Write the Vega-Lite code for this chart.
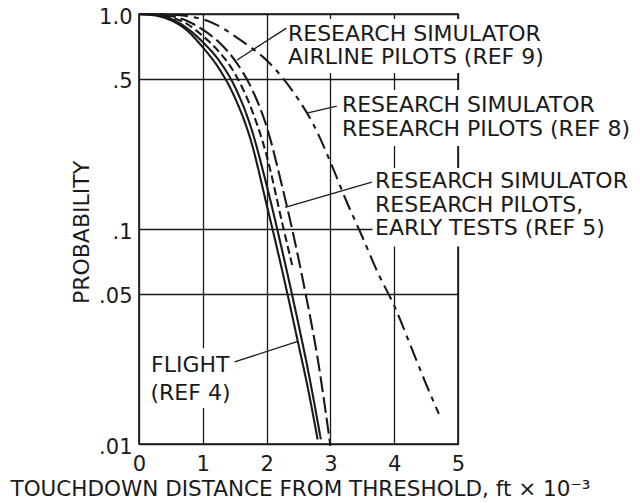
{
  "$schema": "https://vega.github.io/schema/vega-lite/v6.json",
  "width": 319,
  "height": 430,
  "autosize": {"type": "none"},
  "padding": {"left": 139, "top": 14, "right": 182, "bottom": 59},
  "background": "white",
  "config": {
    "view": {"stroke": "#1a1a1a", "strokeWidth": 1.6},
    "font": "DejaVu Sans",
    "text": {"font": "DejaVu Sans"}
  },
  "datasets": {
    "curves": [
      {"series": "A", "x": 0, "p": 1}, {"series": "A", "x": 0.25, "p": 0.985}, {"series": "A", "x": 0.5, "p": 0.935}, {"series": "A", "x": 0.75, "p": 0.84}, {"series": "A", "x": 1.0, "p": 0.70}, {"series": "A", "x": 1.25, "p": 0.56}, {"series": "A", "x": 1.5, "p": 0.41}, {"series": "A", "x": 1.75, "p": 0.26}, {"series": "A", "x": 2.0, "p": 0.13}, {"series": "A", "x": 2.25, "p": 0.063}, {"series": "A", "x": 2.5, "p": 0.029}, {"series": "A", "x": 2.65, "p": 0.018}, {"series": "A", "x": 2.8, "p": 0.0105},
      {"series": "B", "x": 0, "p": 1}, {"series": "B", "x": 0.25, "p": 0.99}, {"series": "B", "x": 0.5, "p": 0.95}, {"series": "B", "x": 0.75, "p": 0.86}, {"series": "B", "x": 1.0, "p": 0.74}, {"series": "B", "x": 1.25, "p": 0.61}, {"series": "B", "x": 1.5, "p": 0.46}, {"series": "B", "x": 1.75, "p": 0.30}, {"series": "B", "x": 2.0, "p": 0.16}, {"series": "B", "x": 2.25, "p": 0.078}, {"series": "B", "x": 2.5, "p": 0.036}, {"series": "B", "x": 2.65, "p": 0.022}, {"series": "B", "x": 2.85, "p": 0.0105},
      {"series": "C", "x": 0, "p": 1}, {"series": "C", "x": 0.25, "p": 0.993}, {"series": "C", "x": 0.5, "p": 0.965}, {"series": "C", "x": 0.75, "p": 0.90}, {"series": "C", "x": 1.0, "p": 0.79}, {"series": "C", "x": 1.25, "p": 0.67}, {"series": "C", "x": 1.5, "p": 0.53}, {"series": "C", "x": 1.75, "p": 0.37}, {"series": "C", "x": 2.0, "p": 0.22}, {"series": "C", "x": 2.25, "p": 0.105}, {"series": "C", "x": 2.4, "p": 0.068},
      {"series": "D", "x": 0, "p": 1}, {"series": "D", "x": 0.25, "p": 0.996}, {"series": "D", "x": 0.5, "p": 0.978}, {"series": "D", "x": 0.75, "p": 0.93}, {"series": "D", "x": 1.0, "p": 0.845}, {"series": "D", "x": 1.25, "p": 0.74}, {"series": "D", "x": 1.5, "p": 0.61}, {"series": "D", "x": 1.75, "p": 0.46}, {"series": "D", "x": 2.0, "p": 0.30}, {"series": "D", "x": 2.25, "p": 0.155}, {"series": "D", "x": 2.4, "p": 0.10}, {"series": "D", "x": 2.6, "p": 0.052}, {"series": "D", "x": 2.8, "p": 0.025}, {"series": "D", "x": 3.0, "p": 0.0098},
      {"series": "E", "x": 0, "p": 1}, {"series": "E", "x": 0.5, "p": 0.992}, {"series": "E", "x": 1.0, "p": 0.945}, {"series": "E", "x": 1.25, "p": 0.88}, {"series": "E", "x": 1.5, "p": 0.79}, {"series": "E", "x": 1.75, "p": 0.70}, {"series": "E", "x": 2.0, "p": 0.61}, {"series": "E", "x": 2.25, "p": 0.505}, {"series": "E", "x": 2.5, "p": 0.40}, {"series": "E", "x": 2.75, "p": 0.30}, {"series": "E", "x": 3.0, "p": 0.205}, {"series": "E", "x": 3.25, "p": 0.135}, {"series": "E", "x": 3.5, "p": 0.092}, {"series": "E", "x": 3.75, "p": 0.062}, {"series": "E", "x": 4.0, "p": 0.044}, {"series": "E", "x": 4.25, "p": 0.029}, {"series": "E", "x": 4.5, "p": 0.019}, {"series": "E", "x": 4.7, "p": 0.0138}
    ],
    "bg": [
      {"x": 2.27, "xe": 5.05, "p": 0.948, "pe": 0.532},
      {"x": 3.12, "xe": 5.05, "p": 0.443, "pe": 0.243},
      {"x": 3.66, "xe": 5.05, "p": 0.192, "pe": 0.083},
      {"x": 0.11, "xe": 1.52, "p": 0.0279, "pe": 0.0147}
    ],
    "leaders": [
      {"x": 2.31, "p": 0.86, "xe": 1.536, "pe": 0.611},
      {"x": 3.10, "p": 0.373, "xe": 2.63, "pe": 0.346},
      {"x": 3.65, "p": 0.165, "xe": 2.29, "pe": 0.126},
      {"x": 1.50, "p": 0.0241, "xe": 2.49, "pe": 0.030}
    ],
    "labels": [
      {"x": 2.335, "p": 0.807, "text": "RESEARCH SIMULATOR"},
      {"x": 2.335, "p": 0.631, "text": "AIRLINE PILOTS (REF 9)"},
      {"x": 3.18, "p": 0.377, "text": "RESEARCH SIMULATOR"},
      {"x": 3.18, "p": 0.292, "text": "RESEARCH PILOTS (REF 8)"},
      {"x": 3.70, "p": 0.167, "text": "RESEARCH SIMULATOR"},
      {"x": 3.70, "p": 0.129, "text": "RESEARCH PILOTS,"},
      {"x": 3.70, "p": 0.101, "text": "EARLY TESTS (REF 5)"},
      {"x": 0.19, "p": 0.0233, "text": "FLIGHT"},
      {"x": 0.18, "p": 0.0173, "text": "(REF 4)"}
    ]
  },
  "encoding": {
    "x": {
      "field": "x", "type": "quantitative",
      "scale": {"domain": [0, 5], "nice": false, "zero": false},
      "axis": {
        "values": [0, 1, 2, 3, 4, 5], "format": "d",
        "grid": true, "gridColor": "#1a1a1a", "gridWidth": 1.3, "gridOpacity": 1,
        "ticks": false, "domain": false, "labelFlush": false,
        "labelPadding": 9, "labelFontSize": 21, "labelColor": "#1a1a1a", "labelFont": "DejaVu Sans",
        "title": "TOUCHDOWN DISTANCE FROM THRESHOLD, ft × 10⁻³",
        "titleFont": "DejaVu Sans", "titleFontSize": 21.5, "titleFontWeight": "normal", "titleColor": "#1a1a1a",
        "titleX": 161, "titleY": 45, "titleAlign": "center", "titleBaseline": "middle"
      }
    },
    "y": {
      "field": "p", "type": "quantitative",
      "scale": {"type": "log", "domain": [0.01, 1], "nice": false},
      "axis": {
        "values": [0.01, 0.05, 0.1, 0.5, 1],
        "labelExpr": "datum.value >= 1 ? '1.0' : replace(toString(datum.value), '0.', '.')",
        "grid": true, "gridColor": "#1a1a1a", "gridWidth": 1.3, "gridOpacity": 1,
        "ticks": false, "domain": false,
        "labelPadding": 7, "labelFontSize": 21, "labelColor": "#1a1a1a", "labelFont": "DejaVu Sans", "labelOffset": 3,
        "title": "PROBABILITY",
        "titleFont": "DejaVu Sans", "titleFontSize": 22, "titleFontWeight": "normal", "titleColor": "#1a1a1a",
        "titleX": -58, "titleY": 218, "titleAngle": 270, "titleAlign": "center", "titleBaseline": "middle"
      }
    }
  },
  "layer": [
    {
      "data": {"name": "bg"},
      "mark": {"type": "rect", "fill": "white", "stroke": null},
      "encoding": {
        "x2": {"field": "xe"},
        "y2": {"field": "pe"}
      }
    },
    {
      "data": {"name": "curves"},
      "mark": {"type": "line", "interpolate": "monotone", "strokeWidth": 2.1, "color": "#1a1a1a"},
      "encoding": {
        "detail": {"field": "series", "type": "nominal"},
        "strokeDash": {
          "field": "series", "type": "nominal",
          "scale": {"domain": ["A", "B", "C", "D", "E"], "range": [[1, 0], [1, 0], [8, 4], [16, 5], [16, 6, 5, 6]]},
          "legend": null
        }
      }
    },
    {
      "data": {"name": "leaders"},
      "mark": {"type": "rule", "strokeWidth": 1.3, "color": "#1a1a1a"},
      "encoding": {
        "x2": {"field": "xe"},
        "y2": {"field": "pe"}
      }
    },
    {
      "data": {"name": "labels"},
      "mark": {"type": "text", "align": "left", "baseline": "middle", "fontSize": 22, "color": "#1a1a1a", "font": "DejaVu Sans"},
      "encoding": {
        "text": {"field": "text", "type": "nominal"}
      }
    }
  ]
}
